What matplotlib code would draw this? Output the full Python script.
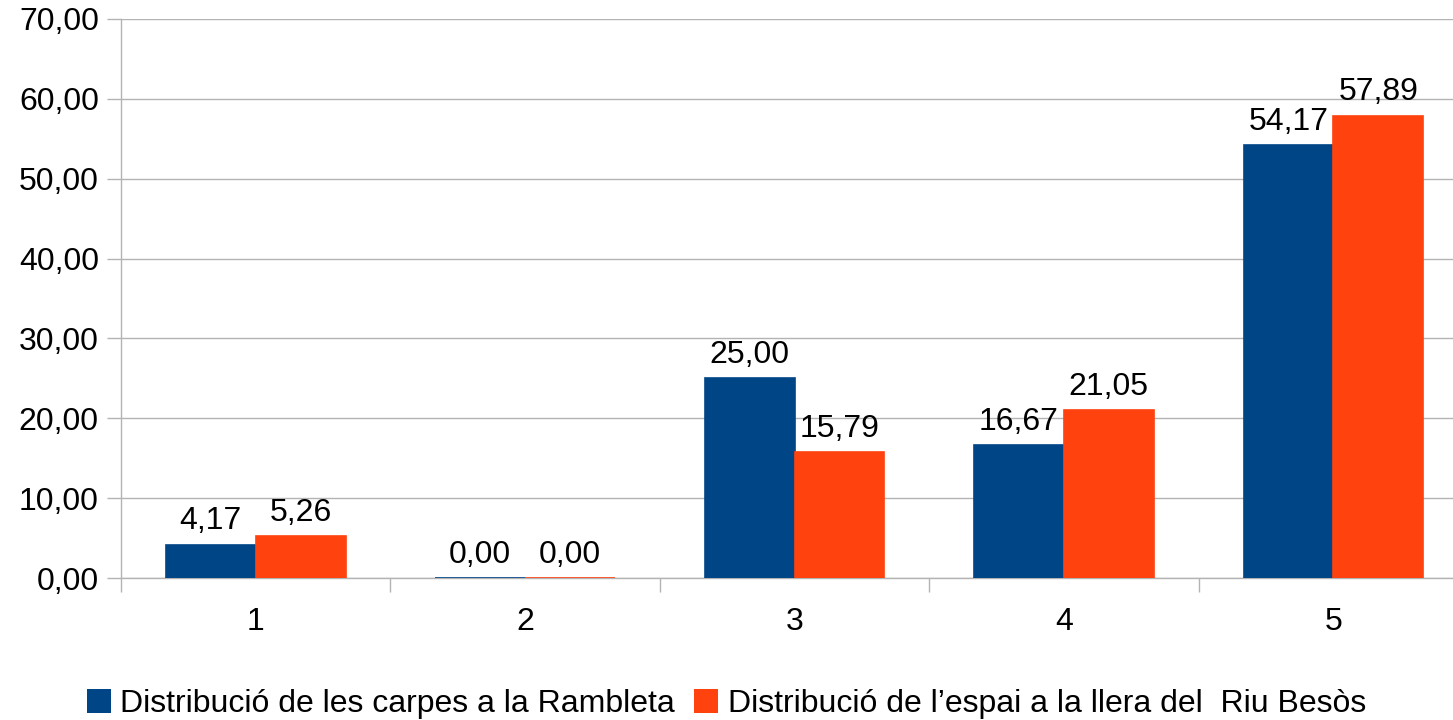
import matplotlib
matplotlib.use("Agg")
from matplotlib import pyplot as plt
from matplotlib.patches import Patch
import numpy as np

plt.rcParams['font.family'] = ['Liberation Sans', 'DejaVu Sans']

categories = ['1', '2', '3', '4', '5']
carpes = [4.17, 0.00, 25.00, 16.67, 54.17]
espai = [5.26, 0.00, 15.79, 21.05, 57.89]
names = ['Distribució de les carpes a la Rambleta',
         'Distribució de l\u2019espai a la llera del  Riu Besòs']
yticks = [0, 10, 20, 30, 40, 50, 60, 70]

blue = '#004586'
orange = '#ff420e'
grid = '#b3b3b3'
fs = 23

def fmt(v):
    return ('%.2f' % v).replace('.', ',')

fig = plt.figure(figsize=(14.53, 7.2), dpi=100)
ax = fig.add_axes([121/1453, 1-578/720, (1468-121)/1453, (578-19)/720])

x = np.arange(len(categories)) + 1
w = 1/3
b1 = ax.bar(x - w/2, carpes, w, color=blue, edgecolor=blue, linewidth=1.2, zorder=3)
b2 = ax.bar(x + w/2, espai, w, color=orange, edgecolor=orange, linewidth=1.2, zorder=3)

for bars, vals in ((b1, carpes), (b2, espai)):
    for r, v in zip(bars, vals):
        ax.annotate(fmt(v), (r.get_x() + r.get_width()/2, v), xytext=(0, 6),
                    textcoords='offset points', ha='center', va='bottom',
                    fontsize=fs)

ax.set_xlim(0.5, 5.5)
ax.set_ylim(0, 70)
ax.set_yticks(yticks)
ax.set_yticklabels([fmt(v) for v in yticks], fontsize=fs)
ax.set_xticks(x)
ax.set_xticklabels(categories, fontsize=fs)
ax.set_xticks(np.arange(0.5, 6, 1), minor=True)
ax.tick_params(axis='x', which='major', length=0, pad=21)
ax.tick_params(axis='x', which='minor', length=10, color=grid, width=1)
ax.tick_params(axis='y', length=10, color=grid, width=1, pad=6)
ax.yaxis.grid(True, color=grid, linewidth=1, zorder=0)
ax.set_axisbelow(True)
for s in ('top', 'right'):
    ax.spines[s].set_visible(False)
for s in ('left', 'bottom'):
    ax.spines[s].set_color(grid)
    ax.spines[s].set_linewidth(1)

handles = [Patch(facecolor=blue), Patch(facecolor=orange)]
fig.legend(handles, names, loc='center', bbox_to_anchor=(0.5, 1-704/720),
           ncol=2, frameon=False, fontsize=fs, handlelength=0.75,
           handleheight=0.75, handletextpad=0.3, columnspacing=0.6,
           borderpad=0)

fig.savefig('out.png', dpi=100)
